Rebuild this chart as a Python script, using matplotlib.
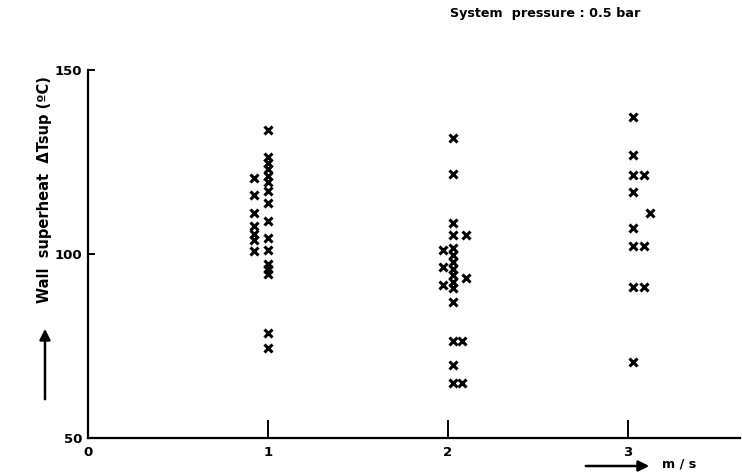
import matplotlib
matplotlib.use("Agg")
import matplotlib.pyplot as plt

# velocity groups (m/s) and wall superheat readings (deg C)
g1_x = [0.92] * 7 + [1.0] * 16
g1_y = [120.6, 116.0, 111.0, 107.5, 105.5, 103.8, 100.9,
        133.7, 126.3, 124.6, 123.0, 121.3, 119.6, 117.1, 113.7, 108.9,
        104.3, 101.0, 97.2, 95.8, 94.5, 78.5, 74.3]

g2_x = [2.03] * 15 + [1.97] * 3 + [2.1] * 2 + [2.08] * 2
g2_y = [131.4, 121.7, 108.3, 105.2, 101.5, 99.6, 97.8, 96.0, 94.2, 92.4,
        90.8, 87.0, 76.2, 69.8, 64.9,
        101.0, 96.3, 91.6,
        105.2, 93.4,
        76.2, 64.9]

g3_x = [3.03] * 8 + [3.09] * 3 + [3.12]
g3_y = [137.3, 126.9, 121.5, 116.9, 107.0, 102.2, 91.1, 70.7,
        121.5, 102.2, 91.1,
        111.0]

x_ticks = [1, 2, 3]
y_ticks = [50, 100, 150]

plt.rcParams['font.family'] = 'DejaVu Sans'
plt.rcParams['font.weight'] = 'bold'

fig = plt.figure(figsize=(7.42, 4.72), dpi=100)
ax = fig.add_axes([88 / 742, 34.3 / 472, 652 / 742, 367.7 / 472])

for xs, ys in [(g1_x, g1_y), (g2_x, g2_y), (g3_x, g3_y)]:
    ax.plot(xs, ys, linestyle='none', marker='x', color='black',
            markersize=5.5, markeredgewidth=2.2)

ax.set_xlim(0, 652 / 180)
ax.set_ylim(50, 150)
ax.spines['top'].set_visible(False)
ax.spines['right'].set_visible(False)
ax.spines['left'].set_linewidth(1.6)
ax.spines['bottom'].set_linewidth(1.6)

ax.set_xticks(x_ticks)
ax.set_xticklabels([str(t) for t in x_ticks], fontsize=9.5, fontweight='bold')
ax.tick_params(axis='x', direction='in', length=13, width=1.4, pad=6)
ax.set_yticks(y_ticks)
ax.set_yticklabels([str(t) for t in y_ticks], fontsize=9.5, fontweight='bold')
ax.tick_params(axis='y', direction='in', length=5, width=1.4, pad=4)
ax.text(0, -0.022, '0', transform=ax.transAxes, ha='center', va='top',
        fontsize=9.5, fontweight='bold')

fig.text(450 / 742, 1 - 13 / 472, 'System  pressure : 0.5 bar', ha='left',
         va='center', fontsize=9.2, fontweight='bold')

fig.text(45 / 742, 1 - 190 / 472, 'Wall  superheat  \u0394Tsup (\u00baC)',
         rotation=90, ha='center', va='center', fontsize=10.5, fontweight='bold')
fig.add_artist(matplotlib.patches.FancyArrowPatch(
    (45 / 742, 1 - 402 / 472), (45 / 742, 1 - 326 / 472),
    transform=fig.transFigure, arrowstyle='-|>', mutation_scale=16,
    linewidth=1.8, color='black'))

fig.add_artist(matplotlib.patches.FancyArrowPatch(
    (583 / 742, 1 - 466 / 472), (652 / 742, 1 - 466 / 472),
    transform=fig.transFigure, arrowstyle='-|>', mutation_scale=16,
    linewidth=1.8, color='black'))
fig.text(662 / 742, 1 - 464 / 472, 'm / s', ha='left', va='center',
         fontsize=9.2, fontweight='bold')

fig.savefig('out.png', dpi=100)
